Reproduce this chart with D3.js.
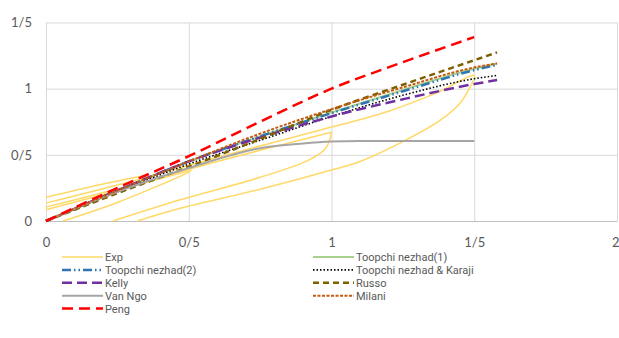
<!DOCTYPE html>
<html>
<head>
<meta charset="utf-8">
<script src="https://cdn.jsdelivr.net/npm/d3@7"></script>
<style>
  html, body { margin: 0; padding: 0; background: #fff; }
  svg { display: block; font-family: "Lato", sans-serif; }
</style>
</head>
<body>
<svg id="chart" width="619" height="338"></svg>
<script>
// Axis ticks (labels use "/" as decimal separator)
const xTicks = [0, 0.5, 1, 1.5, 2];
const yTicks = [0, 0.5, 1, 1.5];

// Model curves sampled at common abscissae
const xModel = [0, 0.25, 0.5, 0.75, 1.0, 1.25, 1.5, 1.58];
const toopchi1 = [0, 0.23, 0.45, 0.64, 0.82, 0.99, 1.15, 1.19];
const toopchi2 = [0, 0.23, 0.45, 0.64, 0.815, 0.98, 1.14, 1.18];
const toopchiKaraji = [0, 0.22, 0.43, 0.61, 0.79, 0.95, 1.075, 1.10];
const kelly = [0, 0.23, 0.45, 0.63, 0.79, 0.92, 1.035, 1.065];
const russo = [0, 0.21, 0.41, 0.62, 0.84, 1.03, 1.215, 1.274];
const milani = [0, 0.23, 0.45, 0.66, 0.845, 1.01, 1.16, 1.19];

const xVanNgo = [0, 0.25, 0.5, 0.75, 0.9, 1.0, 1.1, 1.5];
const vanNgo = [0, 0.22, 0.4, 0.55, 0.585, 0.6, 0.605, 0.605];

const xPeng = [0, 0.25, 0.5, 0.75, 1.0, 1.25, 1.5];
const peng = [0, 0.25, 0.49, 0.75, 1.0, 1.2, 1.39];

// Experimental loops: [x, y] branches
const expBranch1 = [[0.06, 0], [0.25, 0.14], [0.5, 0.37], [0.51, 0.385]];
const expBranch2 = [[0, 0.085], [0.25, 0.23], [0.5, 0.38]];
const expBranch3 = [[0, 0.105], [0.3, 0.27], [0.6, 0.45], [1.0, 0.67]];
const expBranch4 = [[0, 0.135], [0.3, 0.3], [0.6, 0.48], [1.0, 0.71]];
const expBranch5 = [[0, 0.18], [0.2, 0.28], [0.36, 0.35]];
const expBranch6 = [[0.235, 0], [0.47, 0.16], [0.75, 0.33], [0.92, 0.46], [0.98, 0.55], [1.0, 0.67]];
const expBranch7 = [[0.32, 0], [0.47, 0.096], [0.75, 0.24], [1.0, 0.385], [1.1, 0.45], [1.25, 0.6], [1.38, 0.76], [1.45, 0.89], [1.49, 1.03]];
const expBranch8 = [[1.0, 0.71], [1.2, 0.83], [1.37, 0.97], [1.5, 1.1], [1.49, 1.03]];

const svg = d3.select("#chart");
const x = d3.scaleLinear().domain([0, 2]).range([46, 617]);
const y = d3.scaleLinear().domain([0, 1.5]).range([221, 22.5]);
const fmt = d => String(d).replace(".", "/");

// Gridlines
const grid = svg.append("g");
grid.append("g")
  .call(d3.axisLeft(y).tickValues(yTicks).tickSize(-(x(2) - x(0))).tickFormat(""))
  .attr("transform", `translate(${x(0)},0)`);
grid.append("g")
  .call(d3.axisBottom(x).tickValues(xTicks).tickSize(-(y(0) - y(1.5))).tickFormat(""))
  .attr("transform", `translate(0,${y(0)})`);
grid.selectAll(".domain").remove();
grid.selectAll("line").attr("stroke", "#d9d9d9").attr("stroke-width", 1);

// Axis labels
const xAxis = svg.append("g").attr("transform", `translate(0,${y(0)})`)
  .call(d3.axisBottom(x).tickValues(xTicks).tickSize(0).tickPadding(17).tickFormat(fmt));
xAxis.select(".domain").attr("stroke", "#bfbfbf");
// keep the last label inside the right edge
xAxis.selectAll(".tick text").filter(d => d === 2).attr("text-anchor", "end").attr("x", 2);
const yAxis = svg.append("g").attr("transform", `translate(${x(0)},0)`)
  .call(d3.axisLeft(y).tickValues(yTicks).tickSize(0).tickPadding(14).tickFormat(fmt));
yAxis.select(".domain").remove();
svg.selectAll(".tick text").attr("fill", "#595959").attr("font-size", 13)
  .attr("font-family", "Lato, sans-serif");

const plot = svg.append("g");
const line = d3.line().x(d => x(d[0])).y(d => y(d[1])).curve(d3.curveMonotoneX);
const loop = d3.line().x(d => x(d[0])).y(d => y(d[1])).curve(d3.curveCatmullRom.alpha(0.5));
const zip = (xs, ys) => xs.map((v, i) => [v, ys[i]]);

const styles = {
  exp:     { color: "#ffd966", width: 1.5, dash: null },
  t1:      { color: "#a9d18e", width: 2, dash: null },
  t2:      { color: "#2e75b6", width: 2.5, dash: "9,3,1.5,3,1.5,3" },
  tk:      { color: "#000000", width: 1.6, dash: "1.5,2" },
  kelly:   { color: "#7030a0", width: 2.5, dash: "10,5" },
  russo:   { color: "#7f6000", width: 2.5, dash: "6,4" },
  vanNgo:  { color: "#a5a5a5", width: 2, dash: null },
  milani:  { color: "#c55a11", width: 2, dash: "3,1.5" },
  peng:    { color: "#ff0000", width: 2.5, dash: "11,6" }
};

function draw(path, s) {
  plot.append("path").attr("d", path).attr("fill", "none")
    .attr("stroke", s.color).attr("stroke-width", s.width)
    .attr("stroke-dasharray", s.dash);
}

[expBranch1, expBranch2, expBranch3, expBranch4, expBranch5, expBranch6, expBranch7, expBranch8]
  .forEach(b => draw(loop(b), styles.exp));
draw(line(zip(xModel, toopchi1)), styles.t1);
draw(line(zip(xModel, toopchi2)), styles.t2);
draw(line(zip(xModel, toopchiKaraji)), styles.tk);
draw(line(zip(xModel, kelly)), styles.kelly);
draw(line(zip(xModel, russo)), styles.russo);
draw(line(zip(xVanNgo, vanNgo)), styles.vanNgo);
draw(line(zip(xModel, milani)), styles.milani);
draw(line(zip(xPeng, peng)), styles.peng);

// Legend: two columns, row-major order
const legendItems = [
  ["Exp", styles.exp], ["Toopchi nezhad(1)", styles.t1],
  ["Toopchi nezhad(2)", styles.t2], ["Toopchi nezhad & Karaji", styles.tk],
  ["Kelly", styles.kelly], ["Russo", styles.russo],
  ["Van Ngo", styles.vanNgo], ["Milani", styles.milani],
  ["Peng", styles.peng]
];
const colX = [62, 313];
const rowY = i => 257 + i * 12.9;
const legend = svg.append("g");
legendItems.forEach(([name, s], i) => {
  const cx = colX[i % 2], cy = rowY(Math.floor(i / 2));
  legend.append("line").attr("x1", cx).attr("x2", cx + 41).attr("y1", cy).attr("y2", cy)
    .attr("stroke", s.color).attr("stroke-width", s.width).attr("stroke-dasharray", s.dash);
  legend.append("text").attr("x", cx + 43).attr("y", cy).attr("dy", "0.36em")
    .attr("font-family", "Roboto, sans-serif")
    .attr("font-size", 11).attr("fill", "#595959").text(name);
});
</script>
</body>
</html>
